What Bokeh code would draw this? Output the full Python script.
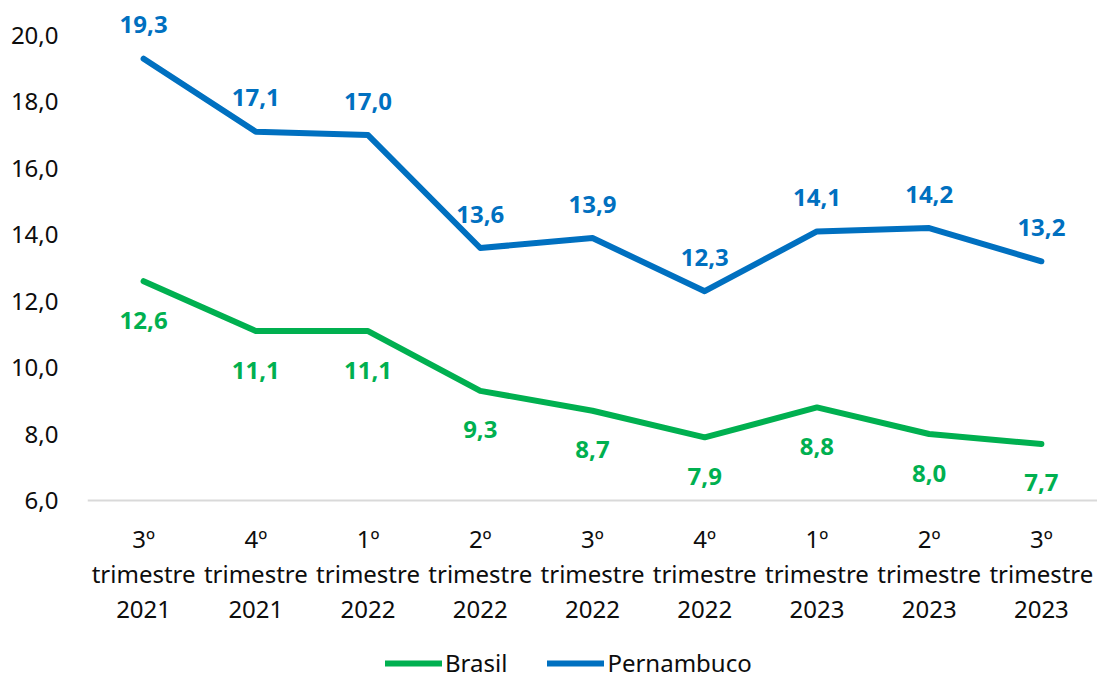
from bokeh.plotting import figure
from bokeh.models import FactorRange, Range1d, FixedTicker, Legend, LegendItem, ColumnDataSource
from bokeh.core.properties import value
from bokeh.embed import file_html
from bokeh.resources import INLINE

categories = ["3º\ntrimestre\n2021", "4º\ntrimestre\n2021", "1º\ntrimestre\n2022",
              "2º\ntrimestre\n2022", "3º\ntrimestre\n2022", "4º\ntrimestre\n2022",
              "1º\ntrimestre\n2023", "2º\ntrimestre\n2023", "3º\ntrimestre\n2023"]
brasil = [12.6, 11.1, 11.1, 9.3, 8.7, 7.9, 8.8, 8.0, 7.7]
pernambuco = [19.3, 17.1, 17.0, 13.6, 13.9, 12.3, 14.1, 14.2, 13.2]
y_ticks = [6, 8, 10, 12, 14, 16, 18, 20]
y_tick_labels = ["6,0", "8,0", "10,0", "12,0", "14,0", "16,0", "18,0", "20,0"]

GREEN = "#00B050"
BLUE = "#0070C0"
FONT = "Noto Sans"
TXT = "#0D0D0D"

def fmt(v):
    return f"{v:.1f}".replace(".", ",")

src = ColumnDataSource(dict(
    x=categories,
    br=brasil, pe=pernambuco,
    br_lbl=[fmt(v) for v in brasil],
    pe_lbl=[fmt(v) for v in pernambuco],
))

# frame spans the whole lower area; the category axis is pinned at y = 6
p = figure(x_range=FactorRange(*categories), y_range=Range1d(0.61, 20.69),
           frame_width=1010, frame_height=667,
           min_border_left=87, min_border_right=0, min_border_top=12, min_border_bottom=0,
           output_backend="svg", toolbar_location=None)
p.outline_line_color = None
p.background_fill_color = "white"
p.border_fill_color = "white"

r_br = p.line("x", "br", source=src, line_color=GREEN, line_width=6, line_cap="round", line_join="round")
r_pe = p.line("x", "pe", source=src, line_color=BLUE, line_width=6, line_cap="round", line_join="round")

p.text("x", "pe", text="pe_lbl", source=src, text_color=BLUE, text_font=value(FONT),
       text_font_style="bold", text_font_size="24px", text_align="center",
       text_baseline="middle", y_offset=-34)
p.text("x", "br", text="br_lbl", source=src, text_color=GREEN, text_font=value(FONT),
       text_font_style="bold", text_font_size="24px", text_align="center",
       text_baseline="middle", y_offset=39)

p.xgrid.grid_line_color = None
p.ygrid.grid_line_color = None

p.yaxis.ticker = FixedTicker(ticks=y_ticks)
p.yaxis.major_label_overrides = {t: l for t, l in zip(y_ticks, y_tick_labels)}
p.yaxis.axis_line_color = None
p.yaxis.major_tick_line_color = None
p.yaxis.minor_tick_line_color = None
p.yaxis.major_tick_out = 0
p.yaxis.major_tick_in = 0
p.yaxis.major_label_standoff = 29
p.yaxis.major_label_text_font = FONT
p.yaxis.major_label_text_font_size = "24px"
p.yaxis.major_label_text_color = TXT

p.xaxis.fixed_location = 6
p.xaxis.axis_line_color = "#D9D9D9"
p.xaxis.axis_line_width = 2
p.xaxis.major_tick_line_color = None
p.xaxis.minor_tick_line_color = None
p.xaxis.major_tick_out = 0
p.xaxis.major_tick_in = 0
p.xaxis.major_label_standoff = 22
p.xaxis.major_label_text_font = FONT
p.xaxis.major_label_text_font_size = "24px"
p.xaxis.major_label_text_color = TXT
p.xaxis.major_label_text_line_height = 1.06
p.xaxis.major_label_orientation = "horizontal"

legend = Legend(items=[LegendItem(label="Brasil", renderers=[r_br]),
                       LegendItem(label="Pernambuco", renderers=[r_pe])],
                orientation="horizontal", location=(298, 0),
                label_text_font=FONT, label_text_font_size="24px", label_text_color=TXT,
                glyph_width=57, glyph_height=20, label_standoff=3, spacing=40,
                padding=0, margin=0, border_line_color=None, background_fill_alpha=0)
p.add_layout(legend, "center")

open("out.html", "w").write(file_html(p, INLINE))
